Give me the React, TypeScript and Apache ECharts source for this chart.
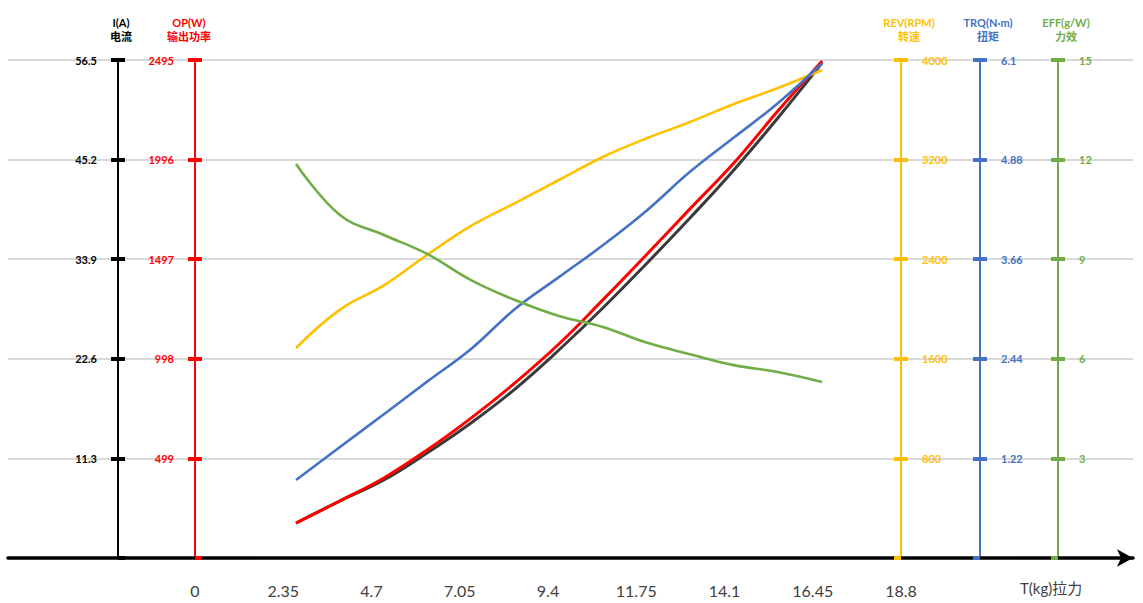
import * as echarts from 'echarts';
import { useEffect, useRef } from 'react';

// thrust (kg) at each measured point
const thrust = [2.69, 3.86, 5.03, 6.18, 7.35, 8.52, 9.69, 10.86, 12.04, 13.18, 14.35, 15.52, 16.7];
const current = [3.97, 6.47, 8.85, 11.91, 15.32, 19.17, 23.6, 28.36, 33.47, 38.57, 44.02, 49.92, 56.17];
const power = [175, 286, 401, 541, 701, 877, 1072, 1293, 1523, 1749, 1979, 2239, 2490];
const rpm = [1687, 1995, 2190, 2434, 2667, 2851, 3036, 3221, 3373, 3502, 3647, 3775, 3920];
const torque = [0.955, 1.36, 1.76, 2.16, 2.56, 3.05, 3.44, 3.83, 4.26, 4.73, 5.15, 5.57, 6.06];
const efficiency = [11.87, 10.33, 9.73, 9.16, 8.37, 7.77, 7.29, 6.96, 6.48, 6.14, 5.81, 5.6, 5.3];

// axis scales: [max, interval]
const thrustMax = 18.8;
const thrustStep = 2.35;
const currentAxis = [56.5, 11.3];
const powerAxis = [2495, 499];
const rpmAxis = [4000, 800];
const torqueAxis = [6.1, 1.22];
const effAxis = [15, 3];

const FONT = 'Lato, "Noto Sans CJK SC", sans-serif';

type AxisDef = {
  name: string;
  color: string;
  scale: number[];
  position: 'left' | 'right';
  offset: number;
  shift: number;
};

const axes: AxisDef[] = [
  { name: 'I(A)\n电流', color: '#000000', scale: currentAxis, position: 'left', offset: 77, shift: 6 },
  { name: 'OP(W)\n输出功率', color: '#ff0000', scale: powerAxis, position: 'left', offset: 0, shift: -12 },
  { name: 'REV(RPM)\n转速', color: '#ffc000', scale: rpmAxis, position: 'right', offset: 0, shift: 16 },
  { name: 'TRQ(N·m)\n扭矩', color: '#4472c4', scale: torqueAxis, position: 'right', offset: 79, shift: 16 },
  { name: 'EFF(g/W)\n力效', color: '#70ad47', scale: effAxis, position: 'right', offset: 157, shift: 16 },
];

const lineColors = ['#3a3a3a', '#ff0000', '#ffc000', '#4472c4', '#70ad47'];
const seriesValues = [current, power, rpm, torque, efficiency];

const fmt = (v: number) => String(+v.toFixed(2));

const buildYAxes = () => {
  const list: any[] = [];
  axes.forEach((a) => {
    const base = {
      type: 'value',
      gridIndex: 0,
      position: a.position,
      offset: a.offset,
      min: 0,
      max: a.scale[0],
      interval: a.scale[1],
      splitLine: { show: false },
    };
    list.push({
      ...base,
      name: a.name,
      nameLocation: 'end',
      nameGap: 17,
      nameTextStyle: {
        color: a.color,
        fontFamily: FONT,
        fontWeight: 'bold',
        fontSize: 11,
        lineHeight: 14,
        align: 'center',
        padding: a.shift > 0 ? [0, 0, 0, a.shift] : [0, -a.shift, 0, 0],
      },
      axisLine: { show: true, onZero: false, lineStyle: { color: a.color, width: 2 } },
      axisTick: { show: true, inside: false, length: 7, lineStyle: { color: a.color, width: 4 } },
      axisLabel: {
        color: a.color,
        fontFamily: FONT,
        fontWeight: 'bold',
        fontSize: 11,
        margin: 21,
        showMinLabel: false,
        formatter: fmt,
      },
    });
    // twin axis so the ticks cross the line
    list.push({
      ...base,
      axisLine: { show: false, onZero: false },
      axisTick: { show: true, inside: true, length: 7, lineStyle: { color: a.color, width: 4 } },
      axisLabel: { show: false },
    });
  });
  // frame grid: horizontal grid lines
  list.push({
    type: 'value',
    gridIndex: 1,
    min: 0,
    max: 5,
    interval: 1,
    axisLine: { show: false },
    axisTick: { show: false },
    axisLabel: { show: false },
    splitLine: { show: true, lineStyle: { color: '#d9d9d9', width: 2 } },
  });
  return list;
};

const App = () => {
  const chartRef = useRef<HTMLDivElement>(null);

  useEffect(() => {
    document.body.style.margin = '0';
    if (!chartRef.current) return;
    const chart = echarts.init(chartRef.current, undefined, { renderer: 'svg' });

    const option: echarts.EChartsOption = {
      animation: false,
      backgroundColor: '#ffffff',
      grid: [
        { left: 195, right: 242, top: 60, bottom: 45 },
        { left: 8, right: 10, top: 60, bottom: 45 },
      ],
      xAxis: [
        {
          type: 'value',
          gridIndex: 0,
          min: 0,
          max: thrustMax,
          interval: thrustStep,
          axisLine: { show: false, onZero: false },
          axisTick: { show: false },
          splitLine: { show: false },
          axisLabel: {
            color: '#404040',
            fontFamily: FONT,
            fontSize: 16,
            margin: 24,
            formatter: fmt,
          },
        },
        {
          type: 'value',
          gridIndex: 1,
          min: 0,
          max: 1,
          axisLine: {
            show: true,
            onZero: false,
            symbol: ['none', 'arrow'],
            symbolSize: [13, 16],
            lineStyle: { color: '#000000', width: 3.5 },
          },
          axisTick: { show: false },
          axisLabel: { show: false },
          splitLine: { show: false },
        },
      ] as any,
      yAxis: buildYAxes(),
      graphic: [
        {
          type: 'text',
          left: 1020,
          top: 580,
          style: {
            text: 'T(kg)拉力',
            fill: '#404040',
            font: `15px ${FONT}`,
          },
        },
      ],
      series: seriesValues.map((vals, i) => ({
        type: 'line',
        xAxisIndex: 0,
        yAxisIndex: i * 2,
        smooth: 0.4,
        showSymbol: false,
        lineStyle: { color: lineColors[i], width: i < 2 ? 3 : 2.6 },
        z: 3,
        data: thrust.map((t, k) => [t, vals[k]]),
      })) as any,
    };

    chart.setOption(option);
    return () => {
      chart.dispose();
    };
  }, []);

  return <div ref={chartRef} style={{ width: 1143, height: 603 }} />;
};

export default App;
